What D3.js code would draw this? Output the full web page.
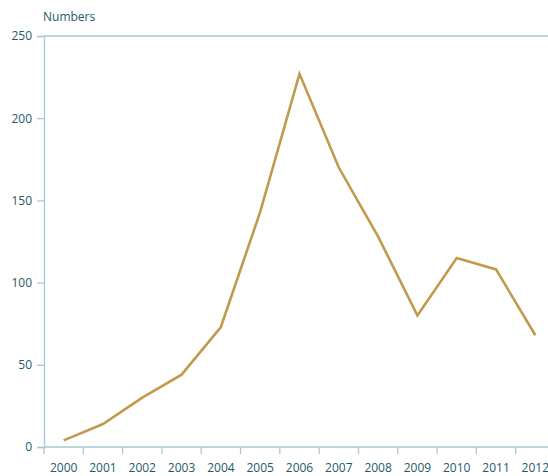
<!DOCTYPE html>
<html>
<head>
<meta charset="utf-8">
<script src="https://cdn.jsdelivr.net/npm/d3@7"></script>
<style>
body{margin:0;background:#fff;}
svg{display:block;}
text{font-family:"Open Sans","Noto Sans",sans-serif;fill:#1d5b68;}
</style>
</head>
<body>
<svg id="chart" width="548" height="476"></svg>
<script>
const years = ["2000","2001","2002","2003","2004","2005","2006","2007","2008","2009","2010","2011","2012"];
const values = [4, 14, 30, 44, 73, 143, 227, 170, 128, 80, 115, 108, 68];
const yTicks = [0, 50, 100, 150, 200, 250];
const yTitle = "Numbers";

(function () {
const svg = d3.select("#chart");
const mLeft = 44, mTop = 36, mBottom = 447, mRight = 555;
const axisColor = "#a9c9d1";

const x = d3.scaleBand().domain(years).range([mLeft, mRight]).padding(0);
const y = d3.scaleLinear().domain([0, 250]).range([mBottom, mTop]);

// y axis
const yAxis = svg.append("g").attr("transform", `translate(${mLeft},0)`)
  .call(d3.axisLeft(y).tickValues(yTicks).tickSize(7).tickPadding(5));
yAxis.select(".domain").attr("stroke", axisColor).attr("stroke-width", 1.3);
yAxis.selectAll(".tick line").attr("stroke", axisColor).attr("stroke-width", 1.3);
yAxis.selectAll(".tick text").attr("fill", "#1d5b68").style("font-size", "12px").attr("font-family", "Open Sans, Noto Sans, sans-serif");

// top line at max
svg.append("line").attr("x1", mLeft).attr("x2", 548).attr("y1", y(250)).attr("y2", y(250))
  .attr("stroke", axisColor).attr("stroke-width", 1.3);

// x axis
const xAxisG = svg.append("g").attr("transform", `translate(0,${mBottom})`);
xAxisG.append("line").attr("x1", mLeft).attr("x2", 548).attr("y1", 0).attr("y2", 0)
  .attr("stroke", axisColor).attr("stroke-width", 1.3);
xAxisG.selectAll("line.tk").data(years).enter().append("line").attr("class", "tk")
  .attr("x1", d => x(d)).attr("x2", d => x(d)).attr("y1", 0).attr("y2", 7)
  .attr("stroke", axisColor).attr("stroke-width", 1.3);
xAxisG.selectAll("text").data(years).enter().append("text")
  .attr("x", d => x(d) + x.bandwidth() / 2).attr("y", 25)
  .attr("text-anchor", "middle").style("font-size", "12px").text(d => d);

// title
svg.append("text").attr("x", 43).attr("y", 21).style("font-size", "12px").text(yTitle);

// line
const line = d3.line().x((d, i) => x(years[i]) + x.bandwidth() / 2).y(d => y(d));
svg.append("path").datum(values).attr("d", line)
  .attr("fill", "none").attr("stroke", "#c29a4e").attr("stroke-width", 2.6)
  .attr("stroke-linejoin", "miter");
})();
</script>
</body>
</html>
